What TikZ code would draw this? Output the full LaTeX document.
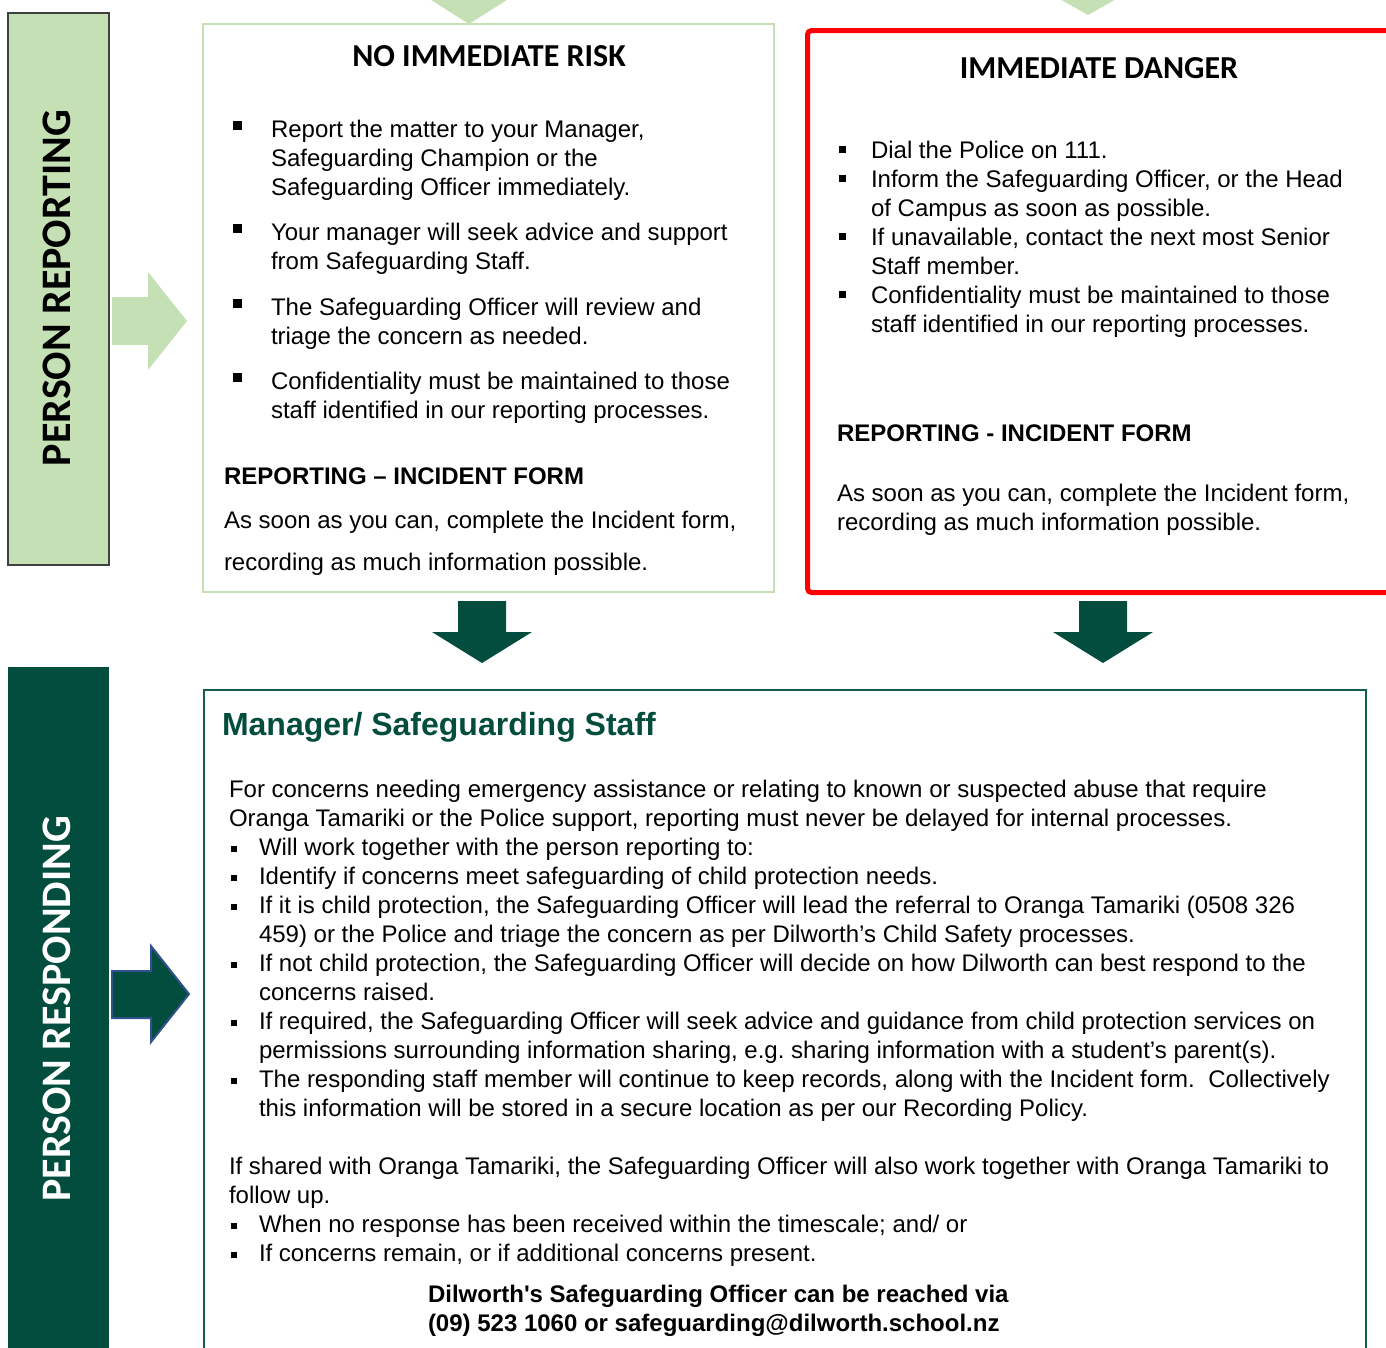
\documentclass[tikz,border=0pt]{standalone}
\usepackage{fontspec}
\setmainfont{Liberation Sans}
\newfontfamily\headfont{Carlito}
\definecolor{palegreen}{RGB}{197,224,180}
\definecolor{deepgreen}{RGB}{3,77,62}
\definecolor{framegreen}{RGB}{22,92,76}
\definecolor{arrowblue}{RGB}{47,82,143}
\definecolor{alarmred}{RGB}{255,0,0}
\definecolor{sidegray}{RGB}{64,64,64}

% bulleted entry: indent, square size, raise, lines
\newcommand\sqentry[4]{\makebox[#1][l]{\raisebox{#3}{\rule{#2}{#2}}}%
  \begin{tabular}[t]{@{}l@{}}#4\end{tabular}}
% small bullet used in the responding panel
\newcommand\smb{\makebox[30pt][l]{\hspace*{2pt}\raisebox{3pt}{\rule{6pt}{6pt}}}}
\newcommand\smi{\hspace*{30pt}}
% typewriter-style straight apostrophe (glyph inserted directly)
\newcommand\straightapos{\XeTeXglyph\numexpr\XeTeXcharglyph"27\relax}
\frenchspacing

\begin{document}
\frenchspacing
\begin{tikzpicture}[x=1pt,y=-1pt,
  body/.style={inner sep=0pt, outer sep=0pt, anchor=base west,
    font=\fontsize{24}{29}\selectfont\frenchspacing},
  boldbody/.style={body, font=\fontsize{24}{29}\selectfont\bfseries\frenchspacing},
  boxtitle/.style={inner sep=0pt, anchor=base,
    font=\headfont\fontsize{32}{38}\selectfont\bfseries},
  sidelabel/.style={inner sep=0pt, rotate=90,
    font=\headfont\fontsize{42}{48}\selectfont\bfseries}]
\useasboundingbox (0,0) rectangle (1386,1347);

% ---- side bands ----
\draw[sidegray, line width=1.5pt, fill=palegreen] (8,13) rectangle (109,565);
\node[sidelabel] (reporting) at (57,288) {PERSON REPORTING};
\fill[deepgreen] (8,667) rectangle (109,1360);
\node[sidelabel, text=white] (responding) at (57,1009) {PERSON RESPONDING};

% ---- incoming chevrons at the top ----
\fill[palegreen] (428,-2) -- (510,-2) -- (469,24) -- cycle;
\fill[palegreen] (1058,-2) -- (1118,-2) -- (1088,15) -- cycle;

% ---- side arrows ----
\fill[palegreen] (112,297) -- (148,297) -- (148,272) -- (187,321)
  -- (148,370) -- (148,345) -- (112,345) -- cycle;
\draw[arrowblue, line width=2pt, fill=deepgreen] (112,971) -- (151,971)
  -- (151,946) -- (189,994) -- (151,1042) -- (151,1018) -- (112,1018) -- cycle;

% ---- no immediate risk panel ----
\draw[palegreen, line width=2.5pt] (203,24) rectangle (774,592);
\node[boxtitle] (risktitle) at (489,66) {NO IMMEDIATE RISK};
\node[body] (risk1) at (233,137) {\sqentry{38pt}{9pt}{7pt}{Report the matter to your Manager,\\
  Safeguarding Champion or the\\ Safeguarding Officer immediately.}};
\node[body] (risk2) at (233,240) {\sqentry{38pt}{9pt}{7pt}{Your manager will seek advice and support\\
  from Safeguarding Staff.}};
\node[body] (risk3) at (233,315) {\sqentry{38pt}{9pt}{7pt}{The Safeguarding Officer will review and\\
  triage the concern as needed.}};
\node[body] (risk4) at (233,389) {\sqentry{38pt}{9pt}{7pt}{Confidentiality must be maintained to those\\
  staff identified in our reporting processes.}};
\node[boldbody] (riskform) at (224,484) {REPORTING – INCIDENT FORM};
\node[body] (riskform1) at (224,528) {As soon as you can, complete the Incident form,};
\node[body] (riskform2) at (224,570) {recording as much information possible.};

% ---- immediate danger panel ----
\draw[alarmred, line width=5pt, rounded corners=4pt] (807.5,30.5) rectangle (1400,592.5);
\node[boxtitle] (dangertitle) at (1099,78) {IMMEDIATE DANGER};
\node[body] (danger) at (839,158) {\begin{tabular}[t]{@{}l@{}}
  \sqentry{32pt}{7pt}{5pt}{Dial the Police on 111.}\\
  \sqentry{32pt}{7pt}{5pt}{Inform the Safeguarding Officer, or the Head\\ of Campus as soon as possible.}\\
  \sqentry{32pt}{7pt}{5pt}{If unavailable, contact the next most Senior\\ Staff member.}\\
  \sqentry{32pt}{7pt}{5pt}{Confidentiality must be maintained to those\\ staff identified in our reporting processes.}
  \end{tabular}};
\node[boldbody] (dangerform) at (837,441) {REPORTING - INCIDENT FORM};
\node[body] (dangerform1) at (837,501) {\begin{tabular}[t]{@{}l@{}}
  As soon as you can, complete the Incident form,\\ recording as much information possible.\end{tabular}};

% ---- arrows into the responding panel ----
\fill[deepgreen] (458,601) -- (506,601) -- (506,632) -- (532,632) -- (482,663)
  -- (432,632) -- (458,632) -- cycle;
\fill[deepgreen] (1079,601) -- (1127,601) -- (1127,632) -- (1153,632) -- (1103,663)
  -- (1053,632) -- (1079,632) -- cycle;

% ---- responding panel ----
\draw[framegreen, line width=1.5pt] (204,690) rectangle (1366,1360);
\node[body, anchor=base west, text=deepgreen, font=\fontsize{32}{38}\selectfont\bfseries]
  (resptitle) at (222,735) {Manager/ Safeguarding Staff};
\node[body] (respbody) at (229,797) {\begin{tabular}[t]{@{}l@{}}
  For concerns needing emergency assistance or relating to known or suspected abuse that require\\
  Oranga Tamariki or the Police support, reporting must never be delayed for internal processes.\\
  \smb Will work together with the person reporting to:\\
  \smb Identify if concerns meet safeguarding of child protection needs.\\
  \smb If it is child protection, the Safeguarding Officer will lead the referral to Oranga Tamariki (0508 326\\
  \smi 459) or the Police and triage the concern as per Dilworth’s Child Safety processes.\\
  \smb If not child protection, the Safeguarding Officer will decide on how Dilworth can best respond to the\\
  \smi concerns raised.\\
  \smb If required, the Safeguarding Officer will seek advice and guidance from child protection services on\\
  \smi permissions surrounding information sharing, e.g. sharing information with a student’s parent(s).\\
  \smb The responding staff member will continue to keep records, along with the Incident form.\ \ Collectively\\
  \smi this information will be stored in a secure location as per our Recording Policy.\\
  \\
  If shared with Oranga Tamariki, the Safeguarding Officer will also work together with Oranga Tamariki to\\
  follow up.\\
  \smb When no response has been received within the timescale; and/ or\\
  \smb If concerns remain, or if additional concerns present.
  \end{tabular}};
\node[boldbody] (contact) at (428,1302) {\begin{tabular}[t]{@{}l@{}}
  Dilworth\straightapos s Safeguarding Officer can be reached via\\
  (09) 523 1060 or safeguarding@dilworth.school.nz\end{tabular}};
\end{tikzpicture}
\end{document}
